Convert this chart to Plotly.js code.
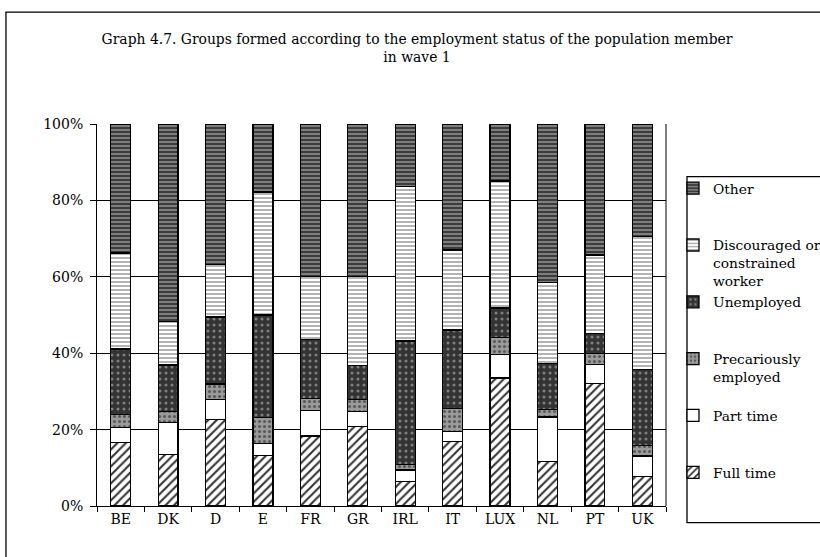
<!DOCTYPE html>
<html><head><meta charset="utf-8">
<script src="https://cdn.plot.ly/plotly-3.0.1.min.js"></script>
<style>html,body{margin:0;padding:0;background:#fff}#c{width:820px;height:557px}</style>
</head><body><div id="c"></div>
<script>
const countries = ["BE","DK","D","E","FR","GR","IRL","IT","LUX","NL","PT","UK"];
const fullTime     = [16.7,13.4,22.7,13.2,18.3,20.9, 6.4,16.8,33.5,11.6,32.0, 7.7];
const partTime     = [ 3.9, 8.5, 5.1, 3.2, 6.7, 3.8, 3.0, 2.7, 6.2,11.7, 5.1, 5.4];
const precarious   = [ 3.4, 2.9, 4.1, 6.7, 3.1, 3.2, 1.5, 6.0, 4.5, 2.0, 2.9, 2.7];
const unemployed   = [17.1,12.1,17.6,26.9,15.4, 8.9,32.3,20.6, 7.6,12.0, 5.1,20.0];
const discouraged  = [25.1,11.4,13.8,32.2,16.6,23.3,40.5,20.9,33.3,21.3,20.6,34.8];
const other        = [33.8,51.7,36.7,17.8,39.9,39.9,16.3,33.0,14.9,41.4,34.3,29.4];
const seriesNames = ["Full time","Part time","Precariously<br>employed","Unemployed","Discouraged or<br>constrained<br>worker","Other"];
const yTicks = [0,20,40,60,80,100];

function pad(label){ const n = label.split("<br>").length; let s = label; for(let i=n;i<3;i++) s += "<br>&nbsp;"; return s; }

const styles = [
  {bg:"#ffffff", fg:"#333333", shape:"/", size:6, sol:0.35},
  {bg:"#ffffff", fg:"#ffffff", shape:"", size:6, sol:0.3},
  {bg:"#9a9a9a", fg:"#5a5a5a", shape:".", size:5, sol:0.3},
  {bg:"#333333", fg:"#808080", shape:".", size:6, sol:0.2},
  {bg:"#ffffff", fg:"#a0a0a0", shape:"-", size:4, sol:0.4},
  {bg:"#3c3c3c", fg:"#9a9a9a", shape:"-", size:4, sol:0.35}
];
const data = [fullTime,partTime,precarious,unemployed,discouraged,other];
const traces = data.map((vals,i)=>({
  type:"bar", x:countries, y:vals, name:pad(seriesNames[i]),
  marker:{color:styles[i].bg, line:{color:"#000", width:1.3},
    pattern:{shape:styles[i].shape, bgcolor:styles[i].bg, fgcolor:styles[i].fg, size:styles[i].size, solidity:styles[i].sol}},
  hoverinfo:"x+y"
}));

const font = "DejaVu Serif, serif";
const layout = {
  width:820, height:557,
  margin:{l:97, r:154, t:124, b:51, autoexpand:false},
  barmode:"stack", bargap:0.58,
  paper_bgcolor:"#fff", plot_bgcolor:"#fff",
  font:{family:font, size:14, color:"#000"},
  title:{text:"Graph 4.7. Groups formed according to the employment status of the population member<br>in wave 1",
    font:{family:font, size:13.9, color:"#000"}, x:0.5624, xanchor:"center", y:0.921, yanchor:"top",
    xref:"paper"},
  xaxis:{type:"category", showline:true, linecolor:"#000", linewidth:1, mirror:false,
    ticks:"outside", ticklen:5, tickcolor:"#000", tickson:"boundaries", showgrid:false,
    tickfont:{family:font, size:14}},
  yaxis:{range:[0,100], tickvals:yTicks, ticktext:yTicks.map(v=>v+"%"),
    showline:true, linecolor:"#000", linewidth:1, ticks:"outside", ticklen:6, tickcolor:"#000",
    ticklabelstandoff:4,
    showgrid:true, gridcolor:"#000", gridwidth:1, zeroline:false, tickfont:{family:font, size:14}},
  legend:{x:1.0123, xanchor:"left", y:0.8725, yanchor:"top", borderwidth:0,
    traceorder:"reversed", valign:"top", font:{family:font, size:13.8}, bgcolor:"rgba(0,0,0,0)",
    itemwidth:30},
  shapes:[
    {type:"rect", xref:"paper", yref:"paper", x0:-0.16, x1:1.4, y0:-0.25, y1:1.293, line:{color:"#000", width:1.3}, fillcolor:"rgba(0,0,0,0)", layer:"below"},
    {type:"rect", xref:"paper", yref:"paper", x0:1.0369, x1:1.4, y0:-0.0437, y1:0.862, line:{color:"#000", width:1.3}, fillcolor:"#fff", layer:"below"},
    {type:"line", xref:"paper", yref:"paper", x0:1, x1:1, y0:0, y1:1, line:{color:"#000", width:1}}
  ]
};
Plotly.newPlot("c", traces, layout, {displayModeBar:false, staticPlot:true});
</script></body></html>
